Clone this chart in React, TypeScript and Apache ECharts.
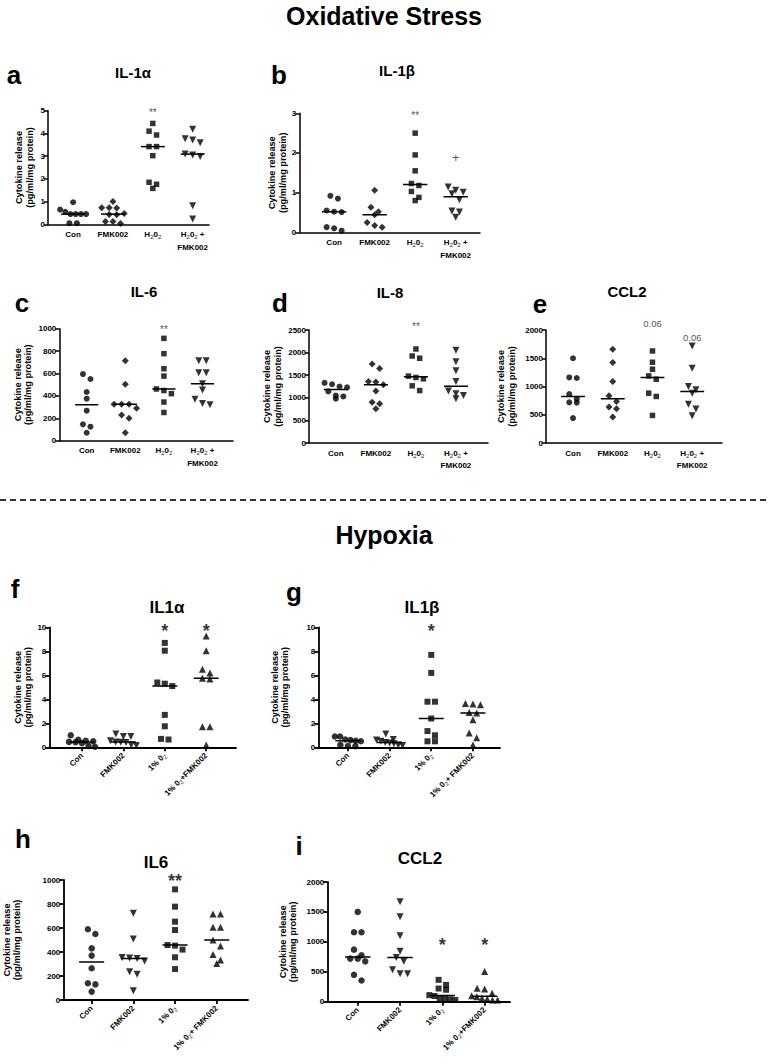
import React, { useEffect, useRef } from 'react';
import * as echarts from 'echarts';

const FONT = '"Liberation Sans", Arial, Helvetica, sans-serif';

// ---------- Oxidative stress ----------
const catsTop = ['Con', 'FMK002', 'H{s|2}0{s|2}', 'H{s|2}0{s|2} +\nFMK002'];
// a: IL-1α
const aCon = [0.97, 0.65, 0.55, 0.45, 0.45, 0.45, 0.45, 0.05, 0.05];
const aFmk = [1.0, 0.73, 0.73, 0.72, 0.47, 0.43, 0.42, 0.12, 0.12, 0.03];
const aH2o2 = [4.44, 4.1, 3.93, 3.42, 3.42, 3.02, 1.85, 1.76, 1.58];
const aH2o2Fmk = [4.18, 3.77, 3.71, 3.59, 3.09, 3.05, 2.98, 0.82, 0.23];
const aMarks: [number, number, string][] = [[3, 5.0, '**']];
// b: IL-1β
const bCon = [0.92, 0.85, 0.55, 0.52, 0.51, 0.13, 0.1, 0.04];
const bFmk = [1.06, 0.63, 0.52, 0.44, 0.25, 0.17, 0.13];
const bH2o2 = [2.5, 1.95, 1.55, 1.23, 1.18, 1.03, 0.88, 0.8];
const bH2o2Fmk = [1.14, 1.06, 1.01, 0.97, 0.82, 0.54, 0.51, 0.38];
const bMarks: [number, number, string][] = [[3, 3.0, '**'], [4, 1.87, '+']];
// c: IL-6
const cCon = [595, 551, 435, 375, 268, 146, 125, 71];
const cFmk = [714, 503, 325, 325, 325, 290, 230, 200, 72];
const cH2o2 = [914, 777, 643, 577, 462, 448, 420, 345, 252];
const cH2o2Fmk = [714, 714, 607, 607, 509, 452, 369, 333, 321];
const cMarks: [number, number, string][] = [[3, 1010, '**']];
// d: IL-8
const dCon = [1330, 1300, 1250, 1230, 1140, 1050, 1030, 980];
const dFmk = [1750, 1650, 1360, 1350, 1290, 1150, 900, 870, 760];
const dH2o2 = [2080, 1925, 1875, 1480, 1450, 1420, 1265, 1160];
const dH2o2Fmk = [2050, 1800, 1600, 1360, 1150, 1090, 1050, 980];
const dMarks: [number, number, string][] = [[3, 2620, '**']];
// e: CCL2
const eCon = [1500, 1160, 1150, 865, 780, 720, 715, 440];
const eFmk = [1659, 1424, 1088, 835, 735, 635, 606, 459];
const eH2o2 = [1629, 1429, 1306, 1188, 1129, 882, 824, 488];
const eH2o2Fmk = [1718, 1324, 1000, 941, 882, 688, 600, 482];
const eMarks: [number, number, string][] = [[3, 2110, '0.06'], [4, 1850, '0.06']];

// ---------- Hypoxia ----------
const catsHypA = ['Con', 'FMK002', '1% 0{s|2}', '1% 0{s|2}+FMK002'];
const catsHypB = ['Con', 'FMK002', '1% 0{s|2}', '1% 0{s|2}+ FMK002'];
// f: IL1α
const fCon = [1.0, 0.62, 0.55, 0.5, 0.45, 0.42, 0.35, 0.12, 0.05];
const fFmk = [1.1, 0.9, 0.9, 0.55, 0.45, 0.42, 0.4, 0.2, 0.15];
const fHyp = [8.7, 8.05, 5.4, 5.3, 5.1, 2.7, 1.75, 0.7, 0.65];
const fHypFmk = [9.28, 8.05, 6.5, 6.2, 5.75, 5.7, 1.72, 1.72, 0.2];
const fMarks: [number, number, string][] = [[3, 10, '*'], [4, 10, '*']];
// g: IL1β
const gCon = [0.9, 0.9, 0.65, 0.6, 0.55, 0.5, 0.2, 0.1, 0.1];
const gFmk = [1.1, 0.65, 0.6, 0.5, 0.4, 0.35, 0.3, 0.2, 0.15];
const gHyp = [7.7, 6.2, 3.8, 3.8, 2.4, 1.35, 1.0, 0.5, 0.5];
const gHypFmk = [3.65, 3.6, 3.55, 2.9, 2.85, 2.3, 1.2, 0.8, 0.2];
const gMarks: [number, number, string][] = [[3, 10, '*']];
// h: IL6
const hCon = [590, 550, 430, 370, 265, 140, 130, 70];
const hFmk = [722, 508, 355, 350, 345, 325, 236, 214, 78];
const hHyp = [922, 778, 653, 583, 458, 453, 420, 356, 258];
const hHypFmk = [717, 717, 606, 606, 500, 450, 380, 333, 305];
const hMarks: [number, number, string][] = [[3, 1020, '**']];
// i: CCL2
const iCon = [1500, 1160, 1160, 870, 775, 720, 720, 674, 449, 354];
const iFmk = [1671, 1420, 1100, 843, 740, 675, 534, 466, 466];
const iHyp = [365, 281, 220, 200, 110, 95, 60, 45, 40, 30];
const iHypFmk = [506, 225, 213, 140, 100, 84, 56, 45, 28, 28];
const iMarks: [number, number, string][] = [[3, 1000, '*'], [4, 1000, '*']];

// ---------- layout / style ----------
const symTop = [
  { symbol: 'circle', size: 6, rot: 0 },
  { symbol: 'diamond', size: 7, rot: 0 },
  { symbol: 'rect', size: 5.5, rot: 0 },
  { symbol: 'triangle', size: 7, rot: 180 },
];
const symHyp = [
  { symbol: 'circle', size: 6.5, rot: 0 },
  { symbol: 'triangle', size: 7, rot: 180 },
  { symbol: 'rect', size: 6, rot: 0 },
  { symbol: 'triangle', size: 7, rot: 0 },
];

type Panel = {
  letter: string; title: string; groups: number[][]; marks: [number, number, string][];
  cats: string[]; hyp: boolean;
  left: number; right: number; top: number; bottom: number; xMin: number; xMax: number;
  yMax: number; yInterval: number; nameGap: number;
  letterPos: [number, number]; titlePos: [number, number];
};

const panels: Panel[] = [
  { letter: 'a', title: 'IL-1α', groups: [aCon, aFmk, aH2o2, aH2o2Fmk], marks: aMarks, cats: catsTop, hyp: false,
    left: 48, right: 209, top: 110.7, bottom: 224.3, xMin: 0.37, xMax: 4.41, yMax: 5, yInterval: 1, nameGap: 13,
    letterPos: [14, 75], titlePos: [133, 72] },
  { letter: 'b', title: 'IL-1β', groups: [bCon, bFmk, bH2o2, bH2o2Fmk], marks: bMarks, cats: catsTop, hyp: false,
    left: 299.3, right: 480, top: 113.3, bottom: 232.3, xMin: 0.14, xMax: 4.6, yMax: 3, yInterval: 1, nameGap: 11,
    letterPos: [279, 75], titlePos: [397, 70] },
  { letter: 'c', title: 'IL-6', groups: [cCon, cFmk, cH2o2, cH2o2Fmk], marks: cMarks, cats: catsTop, hyp: false,
    left: 59.3, right: 233, top: 328.7, bottom: 440.7, xMin: 0.29, xMax: 4.79, yMax: 1000, yInterval: 200, nameGap: 26,
    letterPos: [22, 303], titlePos: [144, 291] },
  { letter: 'd', title: 'IL-8', groups: [dCon, dFmk, dH2o2, dH2o2Fmk], marks: dMarks, cats: catsTop, hyp: false,
    left: 309, right: 488, top: 330, bottom: 443, xMin: 0.33, xMax: 4.8, yMax: 2500, yInterval: 500, nameGap: 26,
    letterPos: [280, 303], titlePos: [390, 292] },
  { letter: 'e', title: 'CCL2', groups: [eCon, eFmk, eH2o2, eH2o2Fmk], marks: eMarks, cats: catsTop, hyp: false,
    left: 546, right: 722, top: 330, bottom: 443, xMin: 0.32, xMax: 4.75, yMax: 2000, yInterval: 500, nameGap: 29,
    letterPos: [540, 304], titlePos: [627, 291] },
  { letter: 'f', title: 'IL1α', groups: [fCon, fFmk, fHyp, fHypFmk], marks: fMarks, cats: catsHypA, hyp: true,
    left: 49.3, right: 236, top: 627.3, bottom: 747.3, xMin: 0.21, xMax: 4.72, yMax: 10, yInterval: 2, nameGap: 16,
    letterPos: [15, 589], titlePos: [167, 607] },
  { letter: 'g', title: 'IL1β', groups: [gCon, gFmk, gHyp, gHypFmk], marks: gMarks, cats: catsHypB, hyp: true,
    left: 318.3, right: 500, top: 627.3, bottom: 747.3, xMin: 0.29, xMax: 4.65, yMax: 10, yInterval: 2, nameGap: 28,
    letterPos: [294, 592], titlePos: [422, 607] },
  { letter: 'h', title: 'IL6', groups: [hCon, hFmk, hHyp, hHypFmk], marks: hMarks, cats: catsHypB, hyp: true,
    left: 63.3, right: 248, top: 880, bottom: 1000, xMin: 0.32, xMax: 4.75, yMax: 1000, yInterval: 200, nameGap: 41,
    letterPos: [23, 839], titlePos: [156, 862] },
  { letter: 'i', title: 'CCL2', groups: [iCon, iFmk, iHyp, iHypFmk], marks: iMarks, cats: catsHypA, hyp: true,
    left: 327.3, right: 510, top: 882, bottom: 1001.7, xMin: 0.28, xMax: 4.6, yMax: 2000, yInterval: 500, nameGap: 29,
    letterPos: [299, 846], titlePos: [420, 858] },
];

function median(v: number[]) {
  const s = [...v].sort((a, b) => a - b);
  const n = s.length;
  return n % 2 ? s[(n - 1) / 2] : (s[n / 2 - 1] + s[n / 2]) / 2;
}

// row-based beeswarm: points closer than D px vertically share a centred row,
// rows are compressed so they never exceed maxW px in width
function swarm(values: number[], pxPerUnit: number, D: number, step: number, maxW: number) {
  const idx = values.map((_, i) => i).sort((a, b) => values[b] - values[a]);
  const off = new Array(values.length).fill(0);
  let row: number[] = [];
  const flush = () => {
    const n = row.length;
    const st = n > 1 ? Math.min(step, maxW / (n - 1)) : 0;
    row.forEach((id, k) => { off[id] = (k - (n - 1) / 2) * st; });
    row = [];
  };
  for (const id of idx) {
    if (row.length && (values[row[0]] - values[id]) * pxPerUnit > D) flush();
    row.push(id);
  }
  flush();
  return off;
}

function buildOption() {
  const grid: any[] = [], xAxis: any[] = [], yAxis: any[] = [], series: any[] = [], graphic: any[] = [];
  const txt = '#000';
  panels.forEach((p, gi) => {
    const w = p.right - p.left, h = p.bottom - p.top;
    const lw = p.hyp ? 1.8 : 1.5;
    grid.push({ left: p.left, top: p.top, width: w, height: h });
    xAxis.push({
      type: 'value', gridIndex: gi, min: p.xMin, max: p.xMax,
      splitLine: { show: false },
      axisLine: { show: true, onZero: true, lineStyle: { color: '#000', width: lw } },
      axisTick: p.hyp ? { show: true, customValues: [1, 2, 3, 4], length: 4, lineStyle: { color: '#000', width: lw } } : { show: false },
      axisLabel: {
        customValues: [1, 2, 3, 4],
        formatter: (v: number) => p.cats[Math.round(v) - 1] ?? '',
        rotate: p.hyp ? 45 : 0,
        margin: p.hyp ? 7 : 4,
        fontSize: 8, fontWeight: 'bold', color: txt, fontFamily: FONT, lineHeight: 12.5,
        showMinLabel: true, showMaxLabel: true, hideOverlap: false,
        rich: {
          s: { fontSize: 6, fontWeight: 'normal', color: '#222', fontFamily: FONT, lineHeight: 12.5, verticalAlign: 'bottom', padding: [0, 0, 1, 0] },
        },
      },
    });
    yAxis.push({
      type: 'value', gridIndex: gi, min: 0, max: p.yMax, interval: p.yInterval,
      name: 'Cytokine release\n(pg/ml/mg protein)', nameLocation: 'middle', nameRotate: 90, nameGap: p.nameGap,
      nameTextStyle: { fontSize: 9.2, fontWeight: 'bold', color: txt, fontFamily: FONT, lineHeight: 10.5, align: 'center' },
      splitLine: { show: false },
      axisLine: { show: true, lineStyle: { color: '#000', width: lw } },
      axisTick: { show: true, length: 4, lineStyle: { color: '#000', width: lw } },
      axisLabel: { fontSize: 8, fontWeight: 'bold', color: txt, fontFamily: FONT, margin: 3, formatter: (v: number) => String(v) },
    });
    const pxPerUnit = h / p.yMax;
    const pxPerX = w / (p.xMax - p.xMin);
    const syms = p.hyp ? symHyp : symTop;
    p.groups.forEach((vals, k) => {
      const cat = k + 1;
      const off = swarm(vals, pxPerUnit, 6, 7.5, 26);
      series.push({
        type: 'scatter', xAxisIndex: gi, yAxisIndex: gi, symbol: syms[k].symbol, symbolSize: syms[k].size,
        symbolRotate: syms[k].rot, itemStyle: { color: '#000' }, silent: true,
        data: vals.map((v, i) => [cat + off[i] / pxPerX, v]),
      });
      const m = median(vals);
      series.push({
        type: 'line', xAxisIndex: gi, yAxisIndex: gi, symbol: 'none', silent: true,
        lineStyle: { color: '#000', width: 1.5 },
        data: [[cat - 0.3, m], [cat + 0.3, m]],
      });
    });
    const fs = p.hyp ? 18 : 10;
    p.marks.forEach((m) => {
      const star = m[2].includes('*');
      const size = star ? fs : (m[2] === '+' ? 12 : 9.5);
      series.push({
        type: 'scatter', xAxisIndex: gi, yAxisIndex: gi, symbolSize: 1, clip: false, silent: true,
        itemStyle: { color: 'rgba(255,255,255,0)' },
        label: {
          show: true, position: 'top', distance: 0,
          formatter: () => m[2],
          fontFamily: FONT, color: p.hyp ? '#000' : '#222',
          fontSize: size, fontWeight: p.hyp ? 'bold' : 'normal',
          offset: [0, star ? size * 0.72 : size * 0.5],
        },
        data: [[m[0], m[1]]],
      });
    });
    graphic.push({
      type: 'text', x: p.letterPos[0], y: p.letterPos[1], silent: true,
      style: { text: p.letter, font: `bold 26px ${FONT}`, fill: '#000', align: 'center', verticalAlign: 'middle' },
    });
    graphic.push({
      type: 'text', x: p.titlePos[0], y: p.titlePos[1], silent: true,
      style: { text: p.title, font: `bold ${p.hyp ? 17 : 15}px ${FONT}`, fill: '#000', align: 'center', verticalAlign: 'middle' },
    });
  });
  graphic.push({
    type: 'text', x: 384, y: 16, silent: true,
    style: { text: 'Oxidative Stress', font: `bold 25px ${FONT}`, fill: '#000', align: 'center', verticalAlign: 'middle' },
  });
  graphic.push({
    type: 'text', x: 384, y: 535, silent: true,
    style: { text: 'Hypoxia', font: `bold 25px ${FONT}`, fill: '#000', align: 'center', verticalAlign: 'middle' },
  });
  graphic.push({
    type: 'line', silent: true, shape: { x1: 0, y1: 500, x2: 768, y2: 500 },
    style: { stroke: '#333', lineWidth: 2, lineDash: [6, 4] },
  });
  return { animation: false, backgroundColor: '#fff', grid, xAxis, yAxis, series, graphic };
}

export default function App() {
  const ref = useRef<HTMLDivElement>(null);
  useEffect(() => {
    document.body.style.margin = '0';
    if (!ref.current) return;
    const chart = echarts.init(ref.current, undefined, { renderer: 'svg' });
    chart.setOption(buildOption() as any);
    return () => chart.dispose();
  }, []);
  return <div ref={ref} style={{ width: 768, height: 1063 }} />;
}
